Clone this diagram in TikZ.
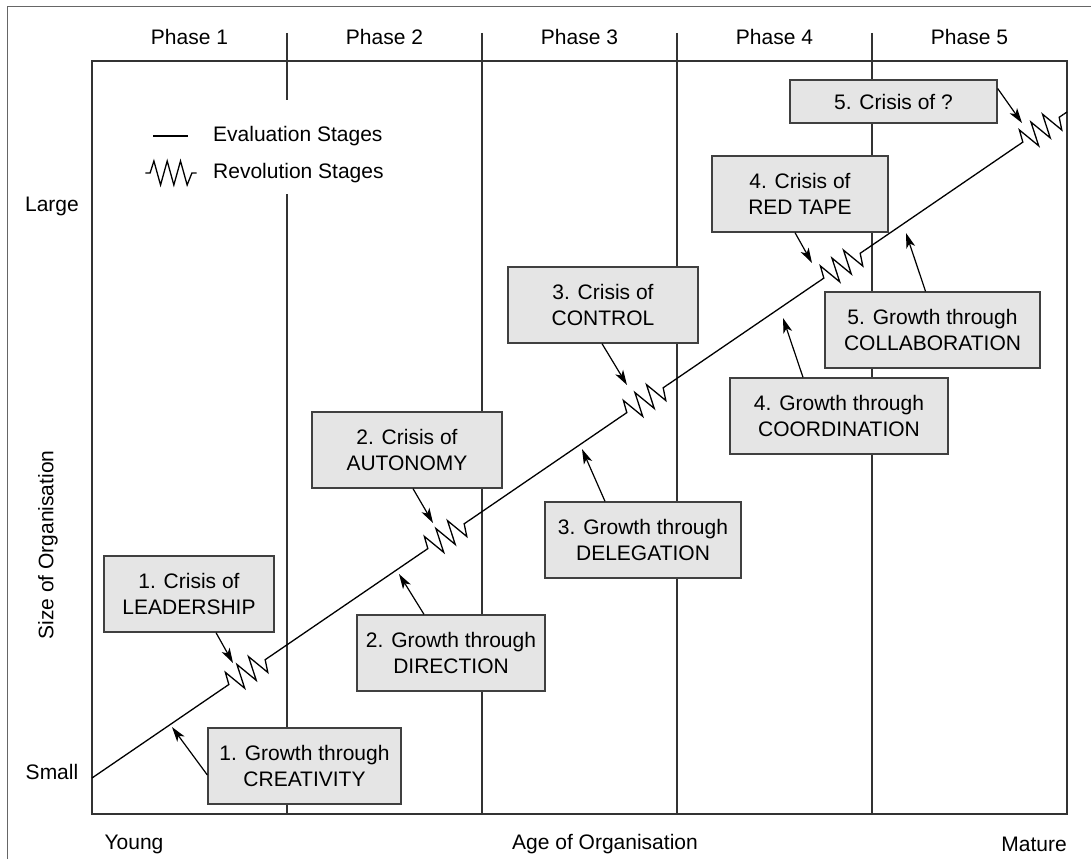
\documentclass[tikz,border=0pt]{standalone}
\usepackage{fontspec}
\setmainfont{Liberation Sans}
\usetikzlibrary{arrows.meta,calc}
\newcommand\zigpath{(-27,0)--(-22,0)--(-18,12)--(-11,-12)--(-4,12)--(3,-12)--(10,12)--(17,-12)--(22,0)--(27,0)}
\newcommand\myzig[2]{\draw[curve, shift={(#1,#2)}, x={(0.8257pt,0.5640pt)}, y={(-0.5640pt,0.8257pt)}] \zigpath;}
\begin{document}
\begin{tikzpicture}[x=1pt,y=-1pt,
  frameline/.style={draw=black!80, line width=1.3pt},
  outerline/.style={draw=black!60, line width=1pt},
  box/.style={draw=black!75, fill=black!10, line width=1.3pt, align=center, inner sep=0pt, font=\fontsize{21}{26}\selectfont},
  lbl/.style={font=\fontsize{21}{25}\selectfont, inner sep=0pt},
  arr/.style={line width=1.2pt, -{Stealth[length=15pt,width=9pt,inset=4pt]}},
  curve/.style={line width=1.3pt, line join=miter},
]
\useasboundingbox (0,0) rectangle (1091,859);
% outer frame (cropped)
\draw[outerline] (7,859) -- (7,7) -- (1091,7);
% plot frame
\draw[frameline] (92,61) rectangle (1067,814);
% phase dividers
\foreach \x in {287,482,677,872} \draw[frameline] (\x,33) -- (\x,814);
% phase labels
\node[lbl] (p1) at (189.5,37) {Phase 1};
\node[lbl] (p2) at (384.5,37) {Phase 2};
\node[lbl] (p3) at (579.5,37) {Phase 3};
\node[lbl] (p4) at (774.5,37) {Phase 4};
\node[lbl] (p5) at (969.5,37) {Phase 5};
% axis labels
\node[lbl] (large) at (52,206) {Large};
\node[lbl] (small) at (52,772) {Small};
\node[lbl, rotate=90] (size) at (48,545) {Size of Organisation};
\node[lbl] (young) at (134,844) {Young};
\node[lbl] (age) at (605,844) {Age of Organisation};
\node[lbl] (mature) at (1034,844) {Mature};
% growth line
\coordinate (S) at (92,778);
\coordinate (E) at (1067,112);
\coordinate (z1a) at (224.7,687.3); \coordinate (z1b) at (269.3,656.9);
\coordinate (z2a) at (423.7,551.4); \coordinate (z2b) at (468.3,521);
\coordinate (z3a) at (622.7,415.4); \coordinate (z3b) at (667.3,385);
\coordinate (z4a) at (819.7,280.9); \coordinate (z4b) at (864.3,250.5);
\coordinate (z5a) at (1018.7,144.9); \coordinate (z5b) at (1063.3,114.5);
\draw[curve] (S) -- (z1a) (z1b) -- (z2a) (z2b) -- (z3a) (z3b) -- (z4a) (z4b) -- (z5a) (z5b) -- (E);
\myzig{247}{672.1}
\myzig{446}{536.2}
\myzig{645}{400.2}
\myzig{842}{265.7}
\myzig{1041}{129.7}
% legend
\fill[white] (118,100) rectangle (400,194);
\coordinate (la) at (153,136); \coordinate (lb) at (188,136);
\draw[curve] (la) -- (lb);
\node[lbl, anchor=west] (leg1) at (213,136) {Evaluation Stages};
\draw[curve, shift={(171,173)}, y=1pt, x=0.95pt] \zigpath;
\node[lbl, anchor=west] (leg2) at (213,173) {Revolution Stages};
% boxes
\node[box, minimum width=207pt, minimum height=43pt] (c5) at (893.5,101.5) {5. Crisis of ?};
\node[box, minimum width=176pt, minimum height=76pt] (c4) at (800,194) {4. Crisis of\\RED TAPE};
\node[box, minimum width=190pt, minimum height=76pt] (c3) at (603,305) {3. Crisis of\\CONTROL};
\node[box, minimum width=190pt, minimum height=76pt] (c2) at (407,450) {2. Crisis of\\AUTONOMY};
\node[box, minimum width=170pt, minimum height=76pt] (c1) at (189,594) {1. Crisis of\\LEADERSHIP};
\node[box, minimum width=215pt, minimum height=76pt] (g5) at (932.5,330) {5. Growth through\\COLLABORATION};
\node[box, minimum width=218pt, minimum height=76pt] (g4) at (839,416) {4. Growth through\\COORDINATION};
\node[box, minimum width=196pt, minimum height=76pt] (g3) at (643,540) {3. Growth through\\DELEGATION};
\node[box, minimum width=188pt, minimum height=76pt] (g2) at (451,653) {2. Growth through\\DIRECTION};
\node[box, minimum width=193pt, minimum height=76pt] (g1) at (304.5,766) {1. Growth through\\CREATIVITY};
% arrow tips
\coordinate (t1) at (172,727);
\coordinate (t2) at (399,574);
\coordinate (t3) at (582,449);
\coordinate (t4) at (783,318);
\coordinate (t5) at (906,233);
\coordinate (k1) at (233,663);
\coordinate (k2) at (433,523);
\coordinate (k3) at (627,385);
\coordinate (k4) at (812,263);
\coordinate (k5) at (1022,123);
\draw[arr] ($(g1.west)+(0,9)$) -- (t1);
\draw[arr] ($(g2.north)+(-27,0)$) -- (t2);
\draw[arr] ($(g3.north)+(-38,0)$) -- (t3);
\draw[arr] ($(g4.north)+(-36,0)$) -- (t4);
\draw[arr] ($(g5.north)+(-7,0)$) -- (t5);
\draw[arr] ($(c1.south)+(27,0)$) -- (k1);
\draw[arr] ($(c2.south)+(6,0)$) -- (k2);
\draw[arr] ($(c3.south)+(-1,0)$) -- (k3);
\draw[arr] ($(c4.south)+(-5,0)$) -- (k4);
\draw[arr] ($(c5.east)+(0,-13)$) -- (k5);
\end{tikzpicture}
\end{document}
